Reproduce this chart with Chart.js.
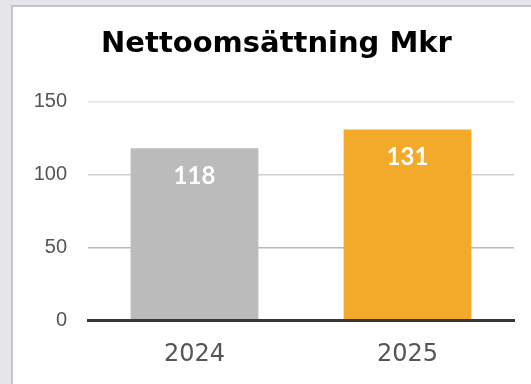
<!DOCTYPE html>
<html>
<head>
<meta charset="utf-8">
<script src="https://cdn.jsdelivr.net/npm/chart.js@4"></script>
<style>
	html, body { margin: 0; padding: 0; overflow: hidden; background: #e5e5ea; }
	#panel {
		position: absolute; left: 11px; top: 5px;
		width: 527px; height: 377px;
		border-left: 2px solid #c4c4c4; border-top: 2px solid #c4c4c4;
		background: #fff;
	}
	canvas { display: block; }
</style>
</head>
<body>
<div id="panel"><canvas id="revenue" width="527" height="377"></canvas></div>
<script>
const years = ["2024", "2025"];
const revenue = [118, 131];
const barColors = ["#bbbbbb", "#f3aa2a"];
const gridColors = {150: "#e4e4e4", 100: "#cfcfcf", 50: "#b9b9b9", 0: "rgba(0,0,0,0)"};

// white value text inside top of each bar
const barLabels = {
	id: "barLabels",
	afterDatasetsDraw(chart) {
		const ctx = chart.ctx;
		const meta = chart.getDatasetMeta(0);
		ctx.save();
		ctx.font = "bold 24px Lato";
		ctx.fillStyle = "#ffffff";
		ctx.textAlign = "center";
		ctx.textBaseline = "middle";
		meta.data.forEach((bar, i) => {
			ctx.fillText(String(revenue[i]), bar.x, bar.y + 28);
		});
		ctx.restore();
	}
};

function generateRevenueChart() {
	return new Chart("revenue", {
		type: "bar",
		data: {
			labels: years,
			datasets: [{
				label: "Nettoomsättning",
				data: revenue,
				backgroundColor: barColors,
				borderWidth: 0,
				categoryPercentage: 1,
				barPercentage: 0.6
			}]
		},
		options: {
			responsive: false,
			animation: false,
			devicePixelRatio: 1,
			layout: {padding: 0},
			plugins: {
				legend: {display: false},
				tooltip: {enabled: false},
				title: {
					display: true,
					text: "Nettoomsättning Mkr",
					color: "#000",
					font: {family: "DejaVu Sans", weight: "bold", size: 29, lineHeight: 1.2},
					padding: {top: 20, bottom: 40}
				}
			},
			scales: {
				y: {
					min: 0,
					max: 150,
					ticks: {
						stepSize: 50,
						color: "#555",
						padding: 21,
						font: {family: "Liberation Sans", size: 20}
					},
					grid: {
						drawTicks: false,
						lineWidth: 1.5,
						color: (c) => gridColors[c.tick.value] || "#ccc"
					},
					border: {display: false},
					afterFit: (s) => { s.width = 75; }
				},
				// empty right axis, only to leave a margin on the right
				yRight: {
					position: "right",
					ticks: {display: false},
					grid: {display: false, drawTicks: false},
					border: {display: false},
					afterFit: (s) => { s.width = 26; }
				},
				x: {
					ticks: {
						color: "#555",
						padding: 20,
						font: {family: "DejaVu Sans", size: 24}
					},
					grid: {display: false, drawTicks: false},
					border: {display: true, color: "#363636", width: 3, z: 1},
					afterFit: (s) => { s.height = 64; }
				}
			}
		},
		plugins: [barLabels]
	});
}

generateRevenueChart();
</script>
</body>
</html>
